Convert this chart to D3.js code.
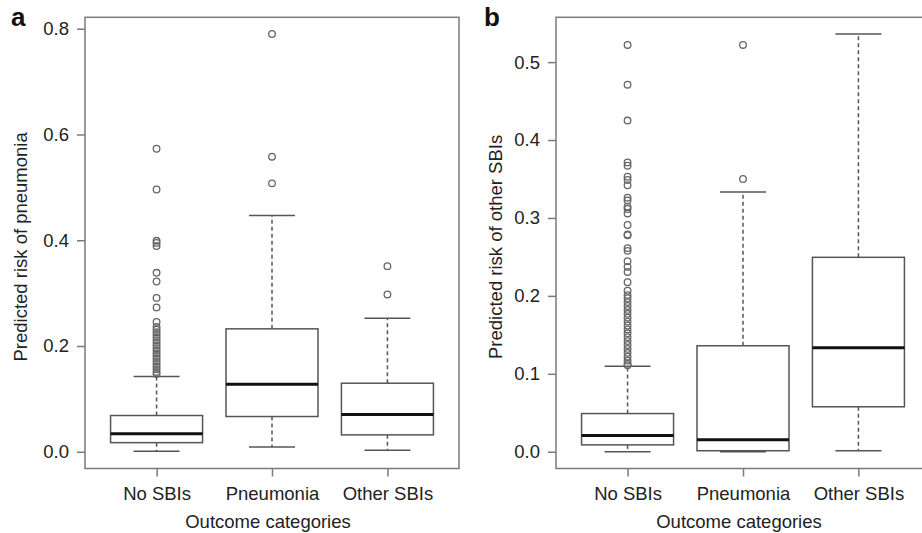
<!DOCTYPE html>
<html>
<head>
<meta charset="utf-8">
<script src="https://cdn.jsdelivr.net/npm/d3@7"></script>
<style>
    body { margin: 0; background: #fff; }
    svg { display: block; font-family: 'Liberation Sans', Arial, sans-serif; }
</style>
</head>
<body>
<svg id="chart" width="922" height="533"></svg>
<script>
const categories = ['No SBIs', 'Pneumonia', 'Other SBIs'];

// five-number summaries: [lower whisker, Q1, median, Q3, upper whisker]
const pneumoniaBoxes = [
    [0.001, 0.0173, 0.034, 0.0686, 0.1426],
    [0.0089, 0.0667, 0.1278, 0.2325, 0.447],
    [0.003, 0.032, 0.0706, 0.1297, 0.2525]
];
const pneumoniaOutliers = [
    [0.573, 0.496, 0.399, 0.395, 0.389, 0.3385, 0.322, 0.291, 0.273, 0.2454,
     0.236, 0.231, 0.226, 0.221, 0.216, 0.211, 0.206, 0.201, 0.196, 0.191,
     0.186, 0.181, 0.176, 0.171, 0.166, 0.161, 0.156, 0.151, 0.147],
    [0.79, 0.558, 0.5076],
    [0.351, 0.2975]
];
const pneumoniaTicks = [0, 0.2, 0.4, 0.6, 0.8];

const otherBoxes = [
    [0, 0.0088, 0.021, 0.049, 0.1097],
    [0, 0.0013, 0.0153, 0.136, 0.3334],
    [0.0013, 0.0577, 0.1333, 0.2495, 0.536]
];
const otherOutliers = [
    [0.522, 0.471, 0.425, 0.3713, 0.367, 0.353, 0.3487, 0.342, 0.326, 0.3224,
     0.3146, 0.3115, 0.3058, 0.291, 0.2787, 0.2778, 0.2613, 0.2578, 0.2446,
     0.2372, 0.2307, 0.2176, 0.2066, 0.201, 0.197, 0.192, 0.187, 0.182, 0.177,
     0.172, 0.167, 0.162, 0.157, 0.152, 0.147, 0.142, 0.137, 0.132, 0.127,
     0.122, 0.117, 0.113, 0.111],
    [0.522, 0.35],
    []
];
const otherTicks = [0, 0.1, 0.2, 0.3, 0.4, 0.5];

const svg = d3.select('#chart');

const PLOT_TOP = 17.3;
const PLOT_BOTTOM = 468.5;
const PLOT_WIDTH = 374;
const BOX_WIDTH = 92;
const FONT_SIZE = '18.5px';
const FRAME_COLOR = '#7a7a7a';
const LINE_COLOR = '#555';
const TEXT_COLOR = '#222';

function drawPanel(opts) {
    const { left, label, labelX, yTitle, yTitleX, boxes, outliers, ticks, yDomain } = opts;

    const x = d3.scalePoint()
        .domain(categories)
        .range([left, left + PLOT_WIDTH])
        .padding(0.62);

    const y = d3.scaleLinear()
        .domain(yDomain)
        .range([PLOT_BOTTOM, PLOT_TOP]);

    const g = svg.append('g');

    // frame
    g.append('rect')
        .attr('x', left)
        .attr('y', PLOT_TOP)
        .attr('width', PLOT_WIDTH)
        .attr('height', PLOT_BOTTOM - PLOT_TOP)
        .attr('fill', 'none')
        .attr('stroke', FRAME_COLOR)
        .attr('stroke-width', 1.5);

    // y axis
    const yAxis = g.append('g')
        .attr('transform', `translate(${left},0)`)
        .call(d3.axisLeft(y).tickValues(ticks).tickFormat(d3.format('.1f')).tickSize(8).tickPadding(8));
    yAxis.select('.domain').remove();
    yAxis.selectAll('line').attr('stroke', FRAME_COLOR).attr('stroke-width', 1.5);
    yAxis.selectAll('text').attr('fill', TEXT_COLOR).style('font-size', FONT_SIZE);

    // x axis
    const xAxis = g.append('g')
        .attr('transform', `translate(0,${PLOT_BOTTOM})`)
        .call(d3.axisBottom(x).tickSize(8).tickPadding(10));
    xAxis.select('.domain').remove();
    xAxis.selectAll('line').attr('stroke', FRAME_COLOR).attr('stroke-width', 1.5);
    xAxis.selectAll('text').attr('fill', TEXT_COLOR).style('font-size', FONT_SIZE);

    const box = g.selectAll('.box')
        .data(boxes.map((b, i) => ({ cat: categories[i], b: b, out: outliers[i] })))
        .join('g')
        .attr('class', 'box');

    // dashed whiskers
    box.append('line')
        .attr('x1', (d) => x(d.cat)).attr('x2', (d) => x(d.cat))
        .attr('y1', (d) => y(d.b[3])).attr('y2', (d) => y(d.b[4]))
        .attr('stroke', LINE_COLOR).attr('stroke-width', 1.5).attr('stroke-dasharray', '4,3');
    box.append('line')
        .attr('x1', (d) => x(d.cat)).attr('x2', (d) => x(d.cat))
        .attr('y1', (d) => y(d.b[1])).attr('y2', (d) => y(d.b[0]))
        .attr('stroke', LINE_COLOR).attr('stroke-width', 1.5).attr('stroke-dasharray', '4,3');

    // whisker caps
    [0, 4].forEach((k) => {
        box.append('line')
            .attr('x1', (d) => x(d.cat) - BOX_WIDTH / 4)
            .attr('x2', (d) => x(d.cat) + BOX_WIDTH / 4)
            .attr('y1', (d) => y(d.b[k])).attr('y2', (d) => y(d.b[k]))
            .attr('stroke', LINE_COLOR).attr('stroke-width', 1.5);
    });

    // boxes
    box.append('rect')
        .attr('x', (d) => x(d.cat) - BOX_WIDTH / 2)
        .attr('width', BOX_WIDTH)
        .attr('y', (d) => y(d.b[3]))
        .attr('height', (d) => y(d.b[1]) - y(d.b[3]))
        .attr('fill', '#fff')
        .attr('stroke', LINE_COLOR)
        .attr('stroke-width', 1.5);

    // medians
    box.append('line')
        .attr('x1', (d) => x(d.cat) - BOX_WIDTH / 2)
        .attr('x2', (d) => x(d.cat) + BOX_WIDTH / 2)
        .attr('y1', (d) => y(d.b[2])).attr('y2', (d) => y(d.b[2]))
        .attr('stroke', '#111').attr('stroke-width', 3);

    // outliers
    box.selectAll('circle')
        .data((d) => d.out.map((v) => ({ cat: d.cat, v: v })))
        .join('circle')
        .attr('cx', (d) => x(d.cat))
        .attr('cy', (d) => y(d.v))
        .attr('r', 3.3)
        .attr('fill', 'none')
        .attr('stroke', '#666')
        .attr('stroke-width', 1.3);

    // axis titles
    g.append('text')
        .attr('x', x('Pneumonia') - 4)
        .attr('y', 528)
        .attr('text-anchor', 'middle')
        .attr('fill', TEXT_COLOR)
        .style('font-size', FONT_SIZE)
        .text('Outcome categories');

    g.append('text')
        .attr('transform', `translate(${yTitleX},${(PLOT_TOP + PLOT_BOTTOM) / 2 + 4}) rotate(-90)`)
        .attr('text-anchor', 'middle')
        .attr('fill', TEXT_COLOR)
        .style('font-size', FONT_SIZE)
        .text(yTitle);

    // panel letter
    g.append('text')
        .attr('x', labelX)
        .attr('y', 26)
        .attr('fill', '#111')
        .style('font-size', '26px')
        .style('font-weight', 'bold')
        .text(label);
}

drawPanel({
    left: 85,
    label: 'a',
    labelX: 11,
    yTitle: 'Predicted risk of pneumonia',
    yTitleX: 26.5,
    boxes: pneumoniaBoxes,
    outliers: pneumoniaOutliers,
    ticks: pneumoniaTicks,
    yDomain: [-0.0316, 0.8216]
});

drawPanel({
    left: 556,
    label: 'b',
    labelX: 484,
    yTitle: 'Predicted risk of other SBIs',
    yTitleX: 502,
    boxes: otherBoxes,
    outliers: otherOutliers,
    ticks: otherTicks,
    yDomain: [-0.0215, 0.5575]
});
</script>
</body>
</html>
